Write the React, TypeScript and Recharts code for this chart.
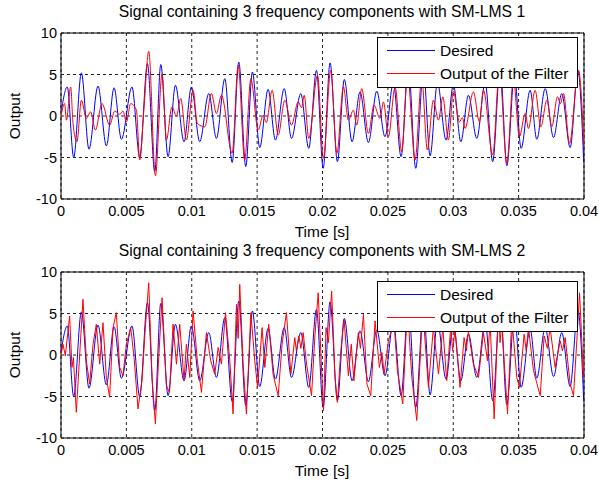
import React from 'react'
import { LineChart, Line, XAxis, YAxis, CartesianGrid, ReferenceArea, Legend } from 'recharts'

// time in ms (peaks / troughs)
const desired: [number, number][] = [
  [0, 0.3], [0.48, 3.5], [0.97, -5], [1.56, 5.2], [2.14, -4], [2.83, 3.6], [3.47, -3.6], [4.06, 3.4],
  [4.62, -2.8], [5.43, 3.5], [6.02, -5], [6.61, 6.3], [7.17, -6.7], [7.63, 6.2], [8.19, -4.9], [8.75, 3.7],
  [9.41, -3.1], [9.97, 3.5], [10.61, -3.1], [11.3, 2.7], [11.89, -2.7], [12.53, 4.5], [13.09, -5.6],
  [13.6, 6.5], [14.13, -6.1], [14.64, 5.3], [15.2, -3.8], [15.84, 3.2], [16.4, -2.9], [17.07, 3.3],
  [17.63, -2.7], [18.34, 2.7], [18.95, -3.9], [19.54, 5.5], [20.05, -6.3], [20.58, 6.4], [21.14, -5.5],
  [21.67, 4.4], [22.26, -3.1], [22.87, 2.9], [23.51, -3.2], [24.15, 3.0], [24.78, -2.5], [25.42, 4.0],
  [26.01, -4.9], [26.57, 6.0], [27.13, -6.3], [27.72, 5.5], [28.23, -4.8], [28.79, 4.0], [29.45, -2.9],
  [30.01, 3.8], [30.58, -3.1], [31.16, 2.5], [31.8, -2.7], [32.44, 4.0], [33.02, -5.5], [33.59, 6.0],
  [34.1, -6.0], [34.68, 5.0], [35.19, -3.9], [35.88, 3.1], [36.39, -2.8], [37.03, 3.3], [37.67, -2.6],
  [38.3, 2.7], [38.94, -3.8], [39.53, 5.5], [39.98, -5.6]
]

const outputLms1: [number, number][] = [
  [0, 0], [0.28, 1.5], [0.41, -0.5], [0.74, 3.5], [0.92, -0.9], [1.22, -3.1], [1.56, 1.9], [1.94, -0.3],
  [2.27, 0.5], [2.63, -1.7], [3.14, 1.5], [3.72, -1.1], [4.11, 0.6], [4.49, 0.2], [4.74, 0.6], [5.0, -0.7],
  [5.33, 1.5], [5.77, 0.7], [6.02, -5.3], [6.35, 1.0], [6.71, 7.8], [7.22, -7.2], [7.73, 5.1], [8.06, -2.9],
  [8.49, 1.1], [8.83, 0.0], [9.16, 2.1], [9.59, -2.9], [10.1, 3.1], [10.43, -0.9], [11.0, -1.3], [11.5, 2.7],
  [11.89, 0.3], [12.27, 2.5], [13.09, -4.5], [13.55, 6.1], [14.05, -5.3], [14.52, 4.5], [15.08, -1.7],
  [15.46, 0.1], [15.7, -0.8], [16.15, 3.1], [16.61, -2.3], [17.12, 1.9], [17.63, -1.1], [18.14, 1.7],
  [18.4, 1.0], [18.6, 2.5], [18.95, -2.7], [19.62, 4.9], [20.07, -5.1], [20.63, 5.5], [21.1, -4.5],
  [21.6, 3.5], [21.98, -0.5], [22.36, 0.7], [22.62, -1.1], [23.0, 3.3], [23.51, -2.1], [23.94, 1.3],
  [24.4, -0.3], [24.66, 1.7], [25.04, -2.5], [25.55, 3.5], [26.06, -4.3], [26.5, 5], [27.08, -5.3],
  [27.59, 4.5], [28.02, -4.1], [28.48, 1.9], [28.87, -0.5], [29.2, 2.3], [29.63, -2.9], [30.01, 3],
  [30.47, -0.7], [30.7, -0.2], [30.9, -1.5], [31.54, 2.9], [32.0, -0.7], [32.31, 3.1], [33.02, -4.7],
  [33.53, 5.5], [34.1, -5.7], [34.6, 4.5], [35.06, -2.5], [35.5, 0.3], [35.75, -1.5], [36.26, 3.1],
  [36.7, -1.3], [37.16, 1.9], [37.54, -1.3], [37.97, 2.3], [38.2, 1.5], [38.43, 2.7], [38.89, -3.3],
  [39.58, 5.5], [40, -3.8]
]

const outputLms2: [number, number][] = [
  [0, 0], [0.15, 1.3], [0.33, -0.1], [0.66, 4.7], [0.84, -1.5], [0.95, -0.3], [1.17, -6.9], [1.68, 6.7],
  [1.94, -0.7], [2.19, -3.5], [2.45, 1.3], [2.7, 3.7], [2.96, -1.1], [3.21, 3.9], [3.47, -2.7], [3.72, -5.1],
  [3.98, 3.3], [4.23, 5.1], [4.49, -1.5], [4.74, -2.5], [5.0, 1.3], [5.33, 3.3], [5.59, -0.3], [5.89, -6.5],
  [6.2, -3], [6.45, 3.3], [6.71, 8.7], [6.96, -2.7], [7.22, -8.3], [7.45, -1], [7.73, 6.9], [8.06, -3.7],
  [8.3, -4.5], [8.57, 3.7], [8.83, -1.1], [9.08, 3.7], [9.41, -3.1], [9.59, 1.3], [9.85, -2.7], [10.1, 5.3],
  [10.43, -0.7], [10.74, -4.5], [11.12, 2.7], [11.45, -0.7], [11.76, -2.3], [12.02, 0.9], [12.27, -1.1],
  [12.58, 5.1], [12.91, -0.7], [13.16, -7.1], [13.42, 6.1], [13.55, 2], [13.67, 8.5], [13.93, -1.1],
  [14.18, -7.1], [14.52, 5.1], [14.82, -0.7], [15.03, -3.9], [15.38, 3.3], [15.59, -1.5], [15.89, 3.7],
  [16.22, -2.3], [16.61, -4.9], [16.91, 1.3], [17.24, 5.1], [17.58, -2.3], [17.88, 2.1], [18.0, 0.5],
  [18.19, 2.3], [18.35, 0.8], [18.52, 2.7], [18.78, -1.1], [19.16, -4.9], [19.41, 2.1], [19.67, 7.5],
  [19.9, -0.7], [20.08, -6.7], [20.27, 3.3], [20.45, 1.5], [20.7, 7.7], [20.96, -2.7], [21.14, -5.7],
  [21.4, 0.5], [21.65, 4.3], [21.98, -2.5], [22.2, 1.3], [22.4, -3.1], [22.74, 2.7], [22.9, 0.8],
  [23.13, 4.9], [23.4, -3.5], [23.69, -4.9], [24.02, 4.1], [24.35, -1.5], [24.55, 0.3], [24.71, -2.3],
  [25.04, 1.7], [25.47, 4], [25.73, -1.9], [26.14, -5.9], [26.3, -0.5], [26.5, 6], [26.83, -2.7],
  [27.21, -7.9], [27.45, -1], [27.67, 5.5], [28.1, -3.9], [28.48, 3.3], [28.87, -2.3], [29.2, 3.3],
  [29.5, -3.1], [29.81, 3.5], [29.95, 0.5], [30.14, 3], [30.52, -3.9], [30.83, 2.1], [31.0, 0.5],
  [31.16, 2.9], [31.54, -1.1], [31.93, -2.7], [32.31, 2.7], [32.62, -0.7], [32.82, 4], [33.13, -7.7],
  [33.46, 6], [33.58, 1.5], [33.71, 4], [34.15, -7.1], [34.48, 4.5], [34.86, -2.7], [35.06, -3.9],
  [35.42, 2.5], [35.58, 0.5], [35.75, 3.3], [36.14, -1.9], [36.65, -4.9], [36.95, 2.3], [37.2, 0.8],
  [37.41, 3.3], [37.79, -1.5], [38.18, 1.7], [38.35, 0.5], [38.56, 2.1], [38.94, -3.5], [39.2, -4.9],
  [39.45, 1.7], [39.66, 7.5], [39.96, -2.7], [40, -0.5]
]

const xTicks = [0, 0.005, 0.01, 0.015, 0.02, 0.025, 0.03, 0.035, 0.04]
const yTicks = [-10, -5, 0, 5, 10]

const toPoints = (arr: [number, number][]) => arr.map(([ms, v]) => ({ t: ms / 1000, v }))

const W = 599
const H = 242
const FONT = "'Liberation Sans', Arial, sans-serif"

interface LegendEntry {
  value: string
  color: string
}

const renderLegend = (props: { payload?: LegendEntry[] }) => (
  <div
    style={{
      background: '#fff',
      border: '1px solid #000',
      width: 201,
      height: 51,
      boxSizing: 'border-box',
      paddingTop: 1,
      fontFamily: FONT,
      fontSize: 15.5,
      color: '#000'
    }}
  >
    {(props.payload || []).map((e) => (
      <div key={e.value} style={{ display: 'flex', alignItems: 'center', height: 23 }}>
        <svg width={58} height={3} style={{ display: 'block' }}>
          <line x1={9} x2={57} y1={1.5} y2={1.5} stroke={e.color} strokeWidth={1} />
        </svg>
        <span style={{ marginLeft: 4, whiteSpace: 'nowrap' }}>{e.value}</span>
      </div>
    ))}
  </div>
)

interface PanelProps {
  title: string
  output: [number, number][]
  plotTop: number
  legendTop: number
  curve: 'monotone' | 'linear'
}

const Panel: React.FC<PanelProps> = ({ title, output, plotTop, legendTop, curve }) => {
  const plotBottom = plotTop + 166
  return (
    <LineChart width={W} height={H} margin={{ top: plotTop, right: 15, bottom: H - plotBottom - 30, left: 15 }}>
      <CartesianGrid stroke='#222' strokeDasharray='3 3' />
      <XAxis
        dataKey='t'
        type='number'
        domain={[0, 0.04]}
        ticks={xTicks}
        allowDataOverflow
        axisLine={false}
        tickLine={false}
        tickSize={4}
        tickMargin={3}
        height={30}
        tick={{ fontSize: 14.5, fill: '#000' }}
      />
      <YAxis
        type='number'
        domain={[-10, 10]}
        ticks={yTicks}
        allowDataOverflow
        axisLine={false}
        tickLine={false}
        tickSize={4}
        tickMargin={0}
        width={46}
        tick={{ fontSize: 14.5, fill: '#000' }}
      />
      <ReferenceArea x1={0} x2={0.04} y1={-10} y2={10} fill='none' stroke='#000' strokeWidth={1} />
      <Line
        data={toPoints(desired)}
        dataKey='v'
        name='Desired'
        type='monotone'
        stroke='#0000ff'
        strokeWidth={1}
        dot={false}
        isAnimationActive={false}
      />
      <Line
        data={toPoints(output)}
        dataKey='v'
        name='Output of the Filter'
        type={curve}
        stroke='#ff0000'
        strokeWidth={1}
        dot={false}
        isAnimationActive={false}
      />
      <Legend
        layout='horizontal'
        verticalAlign='middle'
        align='center'
        content={renderLegend as any}
        wrapperStyle={{ top: legendTop, left: 377, width: 201, height: 51 }}
      />
      <text x={322} y={plotTop - 16} textAnchor='middle' fontSize={15.7} fill='#000'>
        {title}
      </text>
      <text x={322} y={plotBottom + 38} textAnchor='middle' fontSize={15.5} fill='#000'>
        Time [s]
      </text>
      <text
        x={20}
        y={plotTop + 83}
        textAnchor='middle'
        fontSize={15.5}
        fill='#000'
        transform={`rotate(-90 20 ${plotTop + 83})`}
      >
        Output
      </text>
    </LineChart>
  )
}

export default function App() {
  return (
    <div style={{ position: 'absolute', left: 0, top: 0, width: W, height: 484, fontFamily: FONT, background: '#fff' }}>
      <Panel
        title='Signal containing 3 frequency components with SM-LMS 1'
        output={outputLms1}
        plotTop={33}
        legendTop={37}
        curve='monotone'
      />
      <Panel
        title='Signal containing 3 frequency components with SM-LMS 2'
        output={outputLms2}
        plotTop={30}
        legendTop={39}
        curve='linear'
      />
    </div>
  )
}
